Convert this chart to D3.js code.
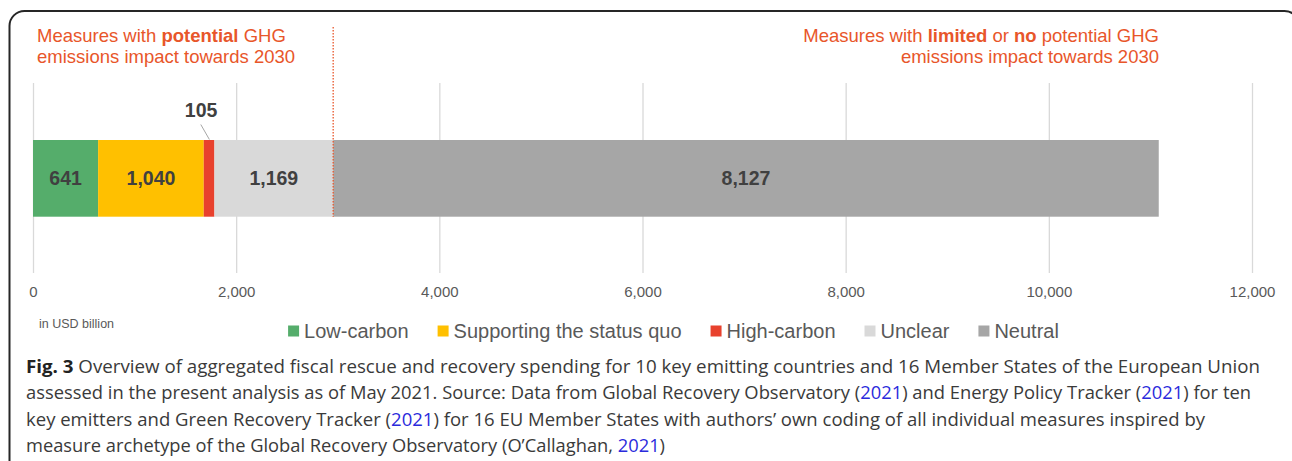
<!DOCTYPE html>
<html>
<head>
<meta charset="utf-8">
<script src="https://cdnjs.cloudflare.com/ajax/libs/d3/7.8.5/d3.min.js"></script>
<style>
  html, body { margin: 0; padding: 0; background: #fff; }
  svg { display: block; }
</style>
</head>
<body>
<div id="chart"></div>
<script>
// spending categories, in USD billion
var categories = ["Low-carbon", "Supporting the status quo", "High-carbon", "Unclear", "Neutral"];
var values = [641, 1040, 105, 1169, 8127];
var colors = ["#55ad6b", "#ffc000", "#e8412d", "#d9d9d9", "#a6a6a6"];
var tickValues = [0, 2000, 4000, 6000, 8000, 10000, 12000];
var rowLabel = ["Total"];

var captionLines = [
  [{t: "Fig. 3", b: true}, {t: " Overview of aggregated fiscal rescue and recovery spending for 10 key emitting countries and 16 Member States of the European Union"}],
  [{t: "assessed in the present analysis as of May 2021. Source: Data from Global Recovery Observatory ("}, {t: "2021", link: true}, {t: ") and Energy Policy Tracker ("}, {t: "2021", link: true}, {t: ") for ten"}],
  [{t: "key emitters and Green Recovery Tracker ("}, {t: "2021", link: true}, {t: ") for 16 EU Member States with authors\u2019 own coding of all individual measures inspired by"}],
  [{t: "measure archetype of the Global Recovery Observatory (O\u2019Callaghan, "}, {t: "2021", link: true}, {t: ")"}]
];
var captionWidths = [1234, 1225, 1179, 639];

var width = 1292, height = 461;
var orange = "#e8562a";
var font = "'Liberation Sans', Arial, sans-serif";

var svg = d3.select("#chart").append("svg")
  .attr("width", width)
  .attr("height", height);

// frame
svg.append("rect")
  .attr("x", 9.5).attr("y", 11)
  .attr("width", 1290).attr("height", 600)
  .attr("rx", 15)
  .attr("fill", "none")
  .attr("stroke", "#262626")
  .attr("stroke-width", 2);

var x = d3.scaleLinear().domain([0, 12000]).range([33, 1252]);
var y = d3.scaleBand().domain(rowLabel).range([140, 216.7]);

var gridTop = 83, gridBottom = 273;

// axis with gridlines
var axis = svg.append("g")
  .attr("transform", "translate(0," + gridBottom + ")")
  .call(d3.axisBottom(x)
    .tickValues(tickValues)
    .tickSize(-(gridBottom - gridTop))
    .tickPadding(13)
    .tickFormat(d3.format(",")));
axis.select(".domain").remove();
axis.selectAll(".tick line").attr("stroke", "#d9d9d9").attr("stroke-width", 1.3);
axis.selectAll(".tick text")
  .attr("fill", "#595959")
  .style("font-family", font)
  .style("font-size", "15px");

// stacked segments
var stack = [];
var acc = 0;
values.forEach(function(v, i) {
  stack.push({name: categories[i], v: v, x0: acc, x1: acc + v, color: colors[i]});
  acc += v;
});

svg.append("g").selectAll("rect")
  .data(stack)
  .join("rect")
  .attr("x", function(d) { return x(d.x0); })
  .attr("y", y("Total"))
  .attr("width", function(d) { return x(d.x1) - x(d.x0); })
  .attr("height", y.bandwidth())
  .attr("fill", function(d) { return d.color; });

// value labels; the thin one sits above with a leader
var labels = svg.append("g")
  .style("font-family", font)
  .style("font-size", "19.5px")
  .style("font-weight", "bold")
  .attr("fill", "#404040")
  .attr("text-anchor", "middle");

stack.forEach(function(d) {
  var cx = (x(d.x0) + x(d.x1)) / 2;
  if (x(d.x1) - x(d.x0) < 30) {
    labels.append("text")
      .attr("x", cx - 8)
      .attr("y", y("Total") - 23)
      .text(d3.format(",")(d.v));
    svg.append("line")
      .attr("x1", cx - 8.3).attr("y1", y("Total") - 15.5)
      .attr("x2", cx + 0.3).attr("y2", y("Total") - 0.5)
      .attr("stroke", "#a6a6a6")
      .attr("stroke-width", 1);
  } else {
    labels.append("text")
      .attr("x", cx)
      .attr("y", y("Total") + y.bandwidth() / 2 + 7)
      .text(d3.format(",")(d.v));
  }
});

// divider between the two measure groups
var split = x(values[0] + values[1] + values[2] + values[3]);
svg.append("line")
  .attr("x1", split).attr("x2", split)
  .attr("y1", 27).attr("y2", y("Total") + y.bandwidth())
  .attr("stroke", orange)
  .attr("stroke-width", 1.3)
  .attr("stroke-dasharray", "1.5,1.5");

// group headings
var head = svg.append("g")
  .style("font-family", font)
  .style("font-size", "18.5px")
  .attr("fill", orange);

var h1 = head.append("text").attr("x", 37).attr("y", 42);
h1.append("tspan").text("Measures with ");
h1.append("tspan").attr("font-weight", "bold").text("potential");
h1.append("tspan").text(" GHG");
head.append("text").attr("x", 37).attr("y", 63).text("emissions impact towards 2030");

var h2 = head.append("text").attr("x", 1159).attr("y", 42).attr("text-anchor", "end");
h2.append("tspan").text("Measures with ");
h2.append("tspan").attr("font-weight", "bold").text("limited");
h2.append("tspan").text(" or ");
h2.append("tspan").attr("font-weight", "bold").text("no");
h2.append("tspan").text(" potential GHG");
head.append("text").attr("x", 1159).attr("y", 63).attr("text-anchor", "end")
  .text("emissions impact towards 2030");

// unit note
svg.append("text")
  .attr("x", 39).attr("y", 328)
  .attr("fill", "#595959")
  .style("font-family", font)
  .style("font-size", "12.5px")
  .text("in USD billion");

// legend, laid out from measured text widths
var legend = svg.append("g")
  .style("font-family", font)
  .style("font-size", "20px");
var items = legend.selectAll("g")
  .data(categories)
  .join("g");
items.append("rect")
  .attr("width", 11).attr("height", 11)
  .attr("y", 325.5)
  .attr("fill", function(d, i) { return colors[i]; });
items.append("text")
  .attr("x", 16).attr("y", 338)
  .attr("fill", "#595959")
  .text(function(d) { return d; });
var lx = 0;
items.each(function() {
  var w = this.querySelector("text").getComputedTextLength();
  this.__x = lx;
  lx += 16 + w + 29;
});
var legendWidth = lx - 29;
var legendStart = 673.5 - legendWidth / 2;
items.attr("transform", function() { return "translate(" + (legendStart + this.__x) + ",0)"; });

// caption
var cap = svg.append("g")
  .style("font-family", "'Open Sans', 'Noto Sans', sans-serif")
  .style("font-size", "18px")
  .attr("fill", "#3a3a3a");
captionLines.forEach(function(line, i) {
  var t = cap.append("text")
    .attr("x", 26)
    .attr("y", 373 + i * 26.3)
    .attr("textLength", captionWidths[i])
    .attr("lengthAdjust", "spacingAndGlyphs");
  line.forEach(function(part) {
    var s = t.append("tspan").text(part.t);
    if (part.b) s.attr("font-weight", "bold").attr("fill", "#222");
    if (part.link) s.attr("fill", "#2b2bdc");
  });
});
</script>
</body>
</html>
